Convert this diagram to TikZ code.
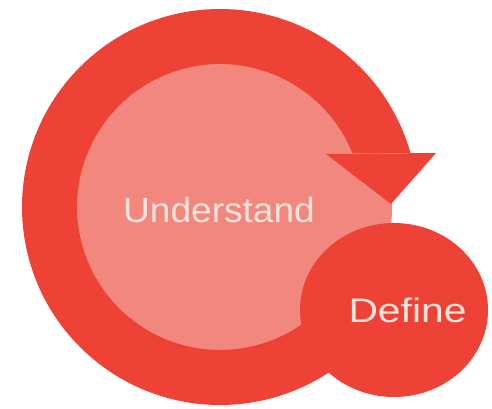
\documentclass[tikz,border=0pt]{standalone}
\usepackage{fontspec}
\setmainfont{Liberation Sans}
\newfontfamily\undfont[FakeStretch=1.06]{Liberation Sans}
\newfontfamily\deffont[FakeStretch=1.2]{Liberation Sans}
\usetikzlibrary{calc}
\definecolor{ringred}{HTML}{EE4236}
\definecolor{pinkfill}{HTML}{F2877E}
\definecolor{textpink}{HTML}{FCE3DC}
\tikzset{
  lbl/.style={text=textpink, inner sep=0pt, anchor=base},
  redfill/.style={fill=ringred},
}
\begin{document}
\begin{tikzpicture}[x=1pt,y=1pt]
\useasboundingbox (0,0) rectangle (492,408);
\fill[white] (0,0) rectangle (492,408);
\coordinate (C) at (220,201);
% inner pink disc
\fill[pinkfill] (C) circle[radius=172];
% ring (clockwise cycle arrow body)
\fill[redfill] ($(C)+(-45:198)$) arc[start angle=-45,end angle=-344.2,radius=198]
  -- ($(C)+(22.2:143)$) arc[start angle=22.2,end angle=315,radius=143] -- cycle;
% arrowhead
\coordinate (ahin) at (326,254);
\coordinate (ahout) at (436,255);
\coordinate (ahtip) at (391,204);
\fill[redfill] (ahin) -- (ahout) -- (ahtip) -- cycle;
% Define ellipse
\coordinate (D) at (394,98);
\fill[redfill] (D) ellipse[x radius=94,y radius=87];
\node[lbl, font=\undfont\fontsize{35}{40}\selectfont] (understand) at (219,186) {Understand};
\node[lbl, font=\deffont\fontsize{34}{40}\selectfont] (define) at (407.5,86) {Define};
\end{tikzpicture}
\end{document}
